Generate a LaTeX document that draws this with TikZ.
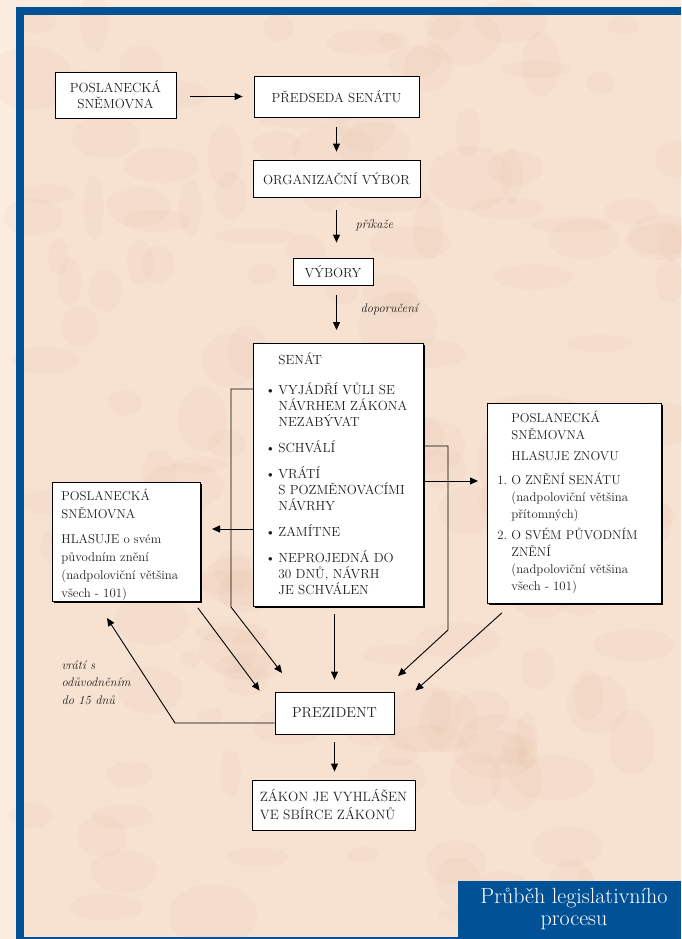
\documentclass[tikz,border=0pt]{standalone}
\usetikzlibrary{arrows.meta,shadows}

\definecolor{papir}{RGB}{247,226,210}
\definecolor{okraj}{RGB}{251,236,224}
\definecolor{skvrna}{RGB}{228,190,166}
\definecolor{modra}{RGB}{0,81,150}
\definecolor{pismo}{RGB}{35,30,30}

\newcommand\polozka[2][13pt]{\hangindent=#1\hangafter=1\noindent\makebox[#1][l]{\textbullet}#2\par}
\newcommand\cislo[2]{\hangindent=14pt\hangafter=1\noindent\makebox[14pt][l]{#1}#2\par}

\begin{document}
\begin{tikzpicture}[
  x = 1pt, y = -1pt,
  every node/.style = {font = \fontsize{13.2}{16}\selectfont, text = pismo},
  box/.style = {draw, fill = white, line width = 0.8pt,
                drop shadow = {shadow xshift = 1.4pt, shadow yshift = -1.4pt,
                               fill = black, opacity = 1}},
  sipka/.style = {-{Triangle[length = 8pt, width = 7pt]}, line width = 0.9pt},
  popis/.style = {font = \fontsize{12.5}{17.5}\selectfont\itshape, align = left},
  ]
  \useasboundingbox (0,0) rectangle (681,939);

  % papir a ramecek
  \fill[okraj] (0,0) rectangle (681,939);
  \fill[papir] (24,15) rectangle (681,937);
  \pgfmathsetseed{11}
  \foreach \i in {1,...,160} {
    \pgfmathsetmacro\bx{30 + rnd*650}
    \pgfmathsetmacro\by{20 + rnd*910}
    \pgfmathsetmacro\rx{10 + rnd*35}
    \pgfmathsetmacro\ry{8 + rnd*25}
    \fill[skvrna, opacity = 0.12] (\bx,\by) ellipse [x radius = \rx pt, y radius = \ry pt];
  }
  \fill[modra] (16,7) rectangle (24,939);
  \fill[modra] (16,7) rectangle (681,15);
  \fill[modra] (16,937) rectangle (681,939);

  % horni cast
  \node[box, minimum width = 121pt, minimum height = 46pt, align = center]
    (psn) at (115.5,95) {POSLANECKÁ\\SNĚMOVNA};
  \node[box, minimum width = 165pt, minimum height = 41pt]
    (pred) at (336.5,96.5) {PŘEDSEDA SENÁTU};
  \node[box, minimum width = 167pt, minimum height = 37pt]
    (org) at (336.5,178.5) {ORGANIZAČNÍ VÝBOR};
  \node[box, minimum width = 80pt, minimum height = 27pt]
    (vyb) at (333,271.5) {VÝBORY};

  % senat
  \node[box, anchor = north west, inner xsep = 12pt, inner ysep = 9pt]
    (senat) at (253,343) {\parbox[c][245pt][t]{146pt}{\raggedright
      \setlength{\parskip}{10pt}%
      \hspace*{13pt}SENÁT\par\vspace{4pt}
      \polozka{VYJÁDŘÍ VŮLI SE\newline NÁVRHEM ZÁKONA\newline NEZABÝVAT}
      \polozka{SCHVÁLÍ}
      \polozka{VRÁTÍ\newline S POZMĚNOVACÍMI\newline NÁVRHY}
      \polozka{ZAMÍTNE}
      \polozka{NEPROJEDNÁ DO\newline 30 DNŮ, NÁVRH\newline JE SCHVÁLEN}}};

  % snemovna vlevo a vpravo
  \node[box, anchor = north west, inner xsep = 9pt, inner ysep = 7pt]
    (lbox) at (52,482) {\parbox[c][105pt][t]{130pt}{\raggedright
      \fontsize{12.8}{18}\selectfont\setlength{\parskip}{7pt}%
      POSLANECKÁ\newline SNĚMOVNA\par
      HLASUJE o svém\newline původním znění\newline
      (nadpoloviční většina\newline všech - 101)}};
  \node[box, anchor = north west, inner xsep = 10pt, inner ysep = 8pt]
    (rbox) at (487,403) {\parbox[c][184pt][t]{154pt}{\raggedright
      \fontsize{12.8}{17}\selectfont\setlength{\parskip}{4pt}%
      \hspace*{14pt}POSLANECKÁ\newline\hspace*{14pt}SNĚMOVNA\par
      \hspace*{14pt}HLASUJE ZNOVU\par\vspace{3pt}
      \cislo{1.}{O ZNĚNÍ SENÁTU\newline(nadpoloviční většina\newline přítomných)}
      \cislo{2.}{O SVÉM PŮVODNÍM\newline ZNĚNÍ\newline(nadpoloviční většina\newline všech - 101)}}};

  % dolni cast
  \node[box, minimum width = 119pt, minimum height = 42pt, font = \fontsize{14.5}{16}\selectfont]
    (prez) at (334.5,713) {PREZIDENT};
  \node[box, minimum width = 163pt, minimum height = 50pt, align = left,
        font = \fontsize{13.5}{18}\selectfont]
    (zakon) at (333.5,805) {ZÁKON JE VYHLÁŠEN\\VE SBÍRCE ZÁKONŮ};

  \node[fill = modra, minimum width = 223pt, minimum height = 58pt, inner sep = 0pt,
        anchor = north west] (nazevbox) at (458,881) {};
  \node[text = white, align = center, font = \fontsize{22}{22}\selectfont]
    (nazev) at (574,909) {Průběh legislativního\\procesu};

  % popisky
  \node[popis, anchor = west] (prikaze) at (352,225) {příkaže};
  \node[popis, anchor = west] (doporuc) at (357,309) {doporučení};
  \node[popis, anchor = north west] (vrati) at (58,657) {vrátí s\\odůvodněním\\do 15 dnů};

  % body zlomu
  \coordinate (sl1) at (231,389);
  \coordinate (sl2) at (231,607);
  \coordinate (sl3) at (282,673);
  \coordinate (sr1) at (448,446);
  \coordinate (sr2) at (448,630);
  \coordinate (sr3) at (398,676);
  \coordinate (sv) at (448,481);
  \coordinate (zam) at (212,529);
  \coordinate (vr1) at (175,723);
  \coordinate (vr2) at (107,618);

  % sipky
  \draw[sipka, shorten <= 14pt, shorten >= 11pt] (psn.east |- pred) -- (pred.west);
  \draw[sipka, shorten <= 10pt, shorten >= 8pt] (pred) -- (org);
  \draw[sipka, shorten <= 13pt, shorten >= 15pt] (org.south) -- (org |- vyb.north);
  \draw[sipka, shorten <= 10pt, shorten >= 13pt] (org |- vyb.south) -- (org |- senat.north);
  \draw[sipka] (sl1 -| senat.west) -- (sl1) -- (sl2) -- (sl3);
  \draw[sipka] (sr1 -| senat.east) -- (sr1) -- (sr2) -- (sr3);
  \draw[sipka, shorten >= 9pt] (sv -| senat.east) -- (sv -| rbox.west);
  \draw[sipka] (zam -| senat.west) -- (zam);
  \draw[sipka, shorten <= 7pt, shorten >= 12pt] (prez |- senat.south) -- (prez.north);
  \draw[sipka] ([shift = {(-3,6)}]lbox.south east) -- ([shift = {(-15,-1)}]prez.north west);
  \draw[sipka] ([shift = {(15,9)}]rbox.south west) -- ([shift = {(21,-1)}]prez.north east);
  \draw[sipka] (prez.west |- vr1) -- (vr1) -- (vr2);
  \draw[sipka, shorten <= 8pt, shorten >= 8pt] (prez.south) -- (prez.south |- zakon.north);
\end{tikzpicture}
\end{document}
